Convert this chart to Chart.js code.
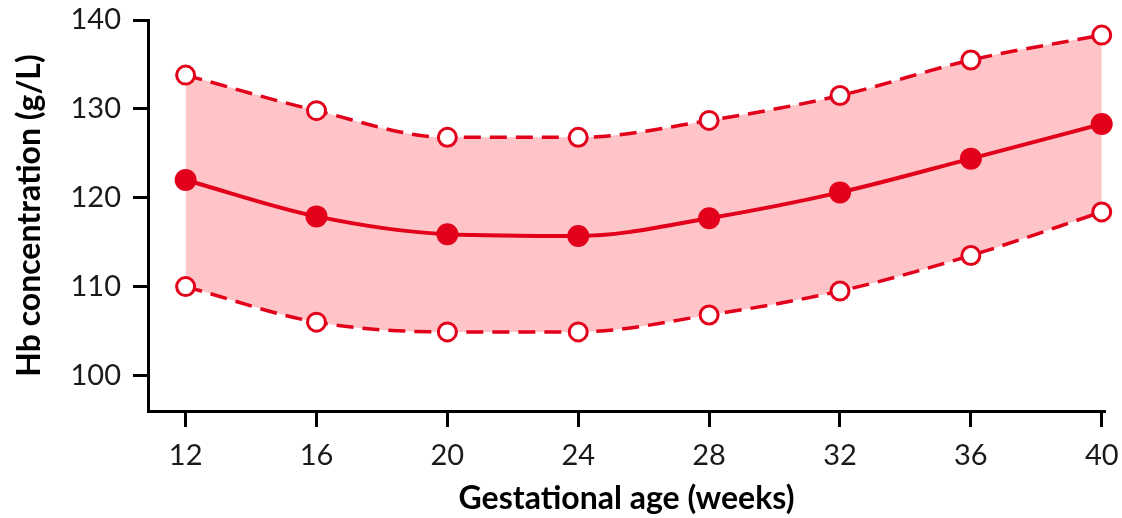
<!DOCTYPE html>
<html>
<head>
<meta charset="utf-8">
<script src="https://cdn.jsdelivr.net/npm/chart.js@4.4.1/dist/chart.umd.min.js"></script>
<style>
  body { margin: 0; background: #fff; }
  #wrap { width: 1122px; height: 518px; position: relative; }
</style>
</head>
<body>
<div id="wrap"><canvas id="hbChart"></canvas></div>
<script>
// ----- data -----
const weeks = [12, 16, 20, 24, 28, 32, 36, 40];
const upperHb = [133.8, 129.8, 126.8, 126.8, 128.7, 131.5, 135.5, 138.3];
const meanHb = [122.0, 117.9, 115.9, 115.7, 117.7, 120.6, 124.4, 128.3];
const lowerHb = [110.0, 106.0, 104.9, 104.9, 106.8, 109.5, 113.5, 118.4];
const xTicks = [12, 16, 20, 24, 28, 32, 36, 40];
const yTicks = [100, 110, 120, 130, 140];

const RED = '#e2001a';
const PINK = '#ffc4c8';
const FONT = 'Lato';

function toPoints(vals) {
  return weeks.map((w, i) => ({ x: w, y: vals[i] }));
}

function renderChart() {
  const ctx = document.getElementById('hbChart').getContext('2d');
  new Chart(ctx, {
    type: 'line',
    data: {
      datasets: [
        {
          label: 'Upper',
          data: toPoints(upperHb),
          borderColor: RED,
          borderWidth: 3.5,
          borderDash: [17, 9],
          backgroundColor: PINK,
          fill: '+2',
          pointRadius: 9,
          pointBorderWidth: 3,
          pointBackgroundColor: '#fff',
          pointBorderColor: RED,
          cubicInterpolationMode: 'monotone',
          clip: false
        },
        {
          label: 'Mean',
          data: toPoints(meanHb),
          borderColor: RED,
          borderWidth: 4,
          fill: false,
          pointRadius: 11,
          pointBorderWidth: 0,
          pointBackgroundColor: RED,
          cubicInterpolationMode: 'monotone',
          clip: false
        },
        {
          label: 'Lower',
          data: toPoints(lowerHb),
          borderColor: RED,
          borderWidth: 3.5,
          borderDash: [17, 9],
          fill: false,
          pointRadius: 9,
          pointBorderWidth: 3,
          pointBackgroundColor: '#fff',
          pointBorderColor: RED,
          cubicInterpolationMode: 'monotone',
          clip: false
        }
      ]
    },
    options: {
      responsive: true,
      maintainAspectRatio: false,
      animation: false,
      layout: { padding: { top: 20, right: 17, left: 0, bottom: 0 } },
      plugins: {
        legend: { display: false },
        tooltip: { enabled: false },
        filler: { drawTime: 'beforeDatasetsDraw' }
      },
      scales: {
        x: {
          type: 'linear',
          min: 10.85,
          max: 40.1,
          afterBuildTicks: (scale) => { scale.ticks = xTicks.map(v => ({ value: v })); },
          afterFit: (scale) => {
            scale.height = 107;
            scale.paddingLeft = 0;
            scale.paddingRight = 0;
          },
          border: { display: true, color: '#000', width: 3 },
          grid: { drawOnChartArea: false, drawTicks: true, tickLength: 16, tickWidth: 3, tickColor: '#000' },
          ticks: { color: '#1a1a1a', font: { family: FONT, size: 29 }, padding: 11, maxRotation: 0 },
          title: {
            display: true,
            text: 'Gestational age (weeks)',
            color: '#000',
            font: { family: FONT, size: 32, weight: 'bold' },
            padding: { top: 0, bottom: 0 }
          }
        },
        y: {
          min: 96,
          max: 140,
          afterBuildTicks: (scale) => { scale.ticks = yTicks.map(v => ({ value: v })); },
          afterFit: (scale) => {
            scale.width = 148;
            scale.paddingTop = 0;
            scale.paddingBottom = 0;
          },
          border: { display: true, color: '#000', width: 3 },
          grid: { drawOnChartArea: false, drawTicks: true, tickLength: 15, tickWidth: 3, tickColor: '#000' },
          ticks: { color: '#1a1a1a', font: { family: FONT, size: 29 }, padding: 12 },
          title: {
            display: true,
            text: 'Hb concentration (g/L)',
            color: '#000',
            font: { family: FONT, size: 32, weight: 'bold' },
            padding: { top: 10, bottom: 0 }
          }
        }
      }
    }
  });
}

window.onload = function () {
  renderChart();
};
</script>
</body>
</html>
